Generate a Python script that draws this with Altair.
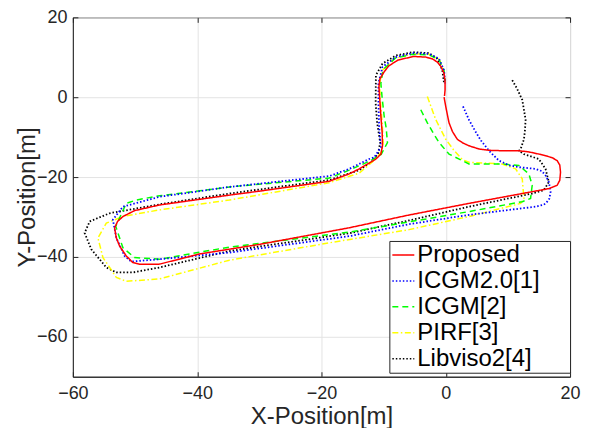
import altair as alt
import pandas as pd

series_names = ["Proposed", "ICGM2.0[1]", "ICGM[2]", "PIRF[3]", "Libviso2[4]"]
series_colors = ["#ff0000", "#0000ff", "#00ff00", "#ffff00", "#000000"]
series_dashes = [[1, 0], [1.5, 2], [6, 4], [6, 2.5, 1.5, 2.5], [1.5, 2]]

proposed_x = [-0.27, 0.10, 0.53, 1.08, 1.86, 2.78, 3.74, 5.35, 7.0, 9.09, 11.77, 13.38, 14.99, 16.06, 17.20, 17.93,
              18.35, 18.47, 18.35, 17.93, 16.59, 3.74, -5.90, -15.53, -29.99, -39.63, -46.06, -49.27, -50.35, -51.41,
              -52.48, -53.01, -53.29, -52.81, -51.95, -50.07, -46.06, -34.81, -29.99, -18.75, -15.53, -13.93, -11.24,
              -10.44, -10.18, -10.23, -10.44, -10.63, -10.75, -10.6, -9.91, -9.2, -7.7, -5.2, -3.21, -2.20, -1.35,
              -0.76, -0.27, -0.11, -0.11, -0.2]
proposed_y = [0.0, -3.14, -6.42, -8.6, -10.54, -11.48, -12.17, -12.96, -13.3, -13.41, -13.41, -13.70, -14.25, -14.64,
              -15.2, -15.88, -17.0, -18.77, -20.8, -22.05, -22.89, -26.59, -29.5, -32.7, -36.86, -39.26, -41.80, -41.85,
              -41.41, -39.75, -37.28, -35.23, -32.77, -31.11, -29.88, -28.40, -26.99, -24.52, -23.53, -21.06, -19.19,
              -17.95, -15.48, -14.25, -12.17, -8.89, -4.77, -0.25, 2.64, 4.6, 6.35, 7.8, 9.3, 10.2, 10.05, 9.63, 8.81,
              7.65, 5.93, 3.95, 1.80, 0.3]

icgm20_x = [2.78, 3.74, 4.71, 5.67, 6.96, 8.56, 10.17, 11.77, 14.46, 15.47, 16.06, 16.59, 16.87, 16.67, 16.32, 15.79,
            14.46, 3.74, -5.90, -15.53, -34.81, -46.06, -50.60, -51.68, -53.01, -53.56, -51.95, -46.06, -34.81, -18.75,
            -15.53, -12.32, -11.52, -10.44, -10.71, -10.83, -10.83, -10.18, -8.03, -5.37, -2.68, -1.08, -0.27, -0.11]
icgm20_y = [-2.30, -5.68, -8.40, -10.86, -13.41, -15.88, -17.04, -17.53, -17.95, -18.52, -19.58, -21.23, -23.70,
            -25.43, -26.17, -26.91, -27.41, -29.46, -31.8, -34.8, -38.9, -40.57, -41.16, -39.75, -35.23, -30.69,
            -27.41, -24.94, -22.47, -19.75, -17.95, -15.48, -15.06, -12.59, -7.65, -1.48, 3.46, 7.58, 10.05, 11.04,
            10.86, 9.63, 6.74, 3.46]

icgm_x = [-4.02, -2.96, -2.04, -1.08, 0.53, 2.67, 3.74, 9.09, 11.77, 13.38, 13.91, 13.65, 12.31, 3.74, -15.53, -34.81,
          -46.06, -50.07, -51.95, -53.01, -53.12, -51.41, -49.80, -46.06, -34.81, -18.75, -15.53, -12.32, -10.39, -9.38,
          -9.59, -9.91, -10.23, -10.44, -10.07, -8.14, -5.41, -2.68, -1.08, -0.27, -0.11]
icgm_y = [-3.14, -6.42, -8.89, -11.36, -14.25, -15.88, -16.72, -16.72, -17.11, -19.19, -22.05, -25.36, -26.17, -28.64,
          -33.8, -37.53, -40.57, -40.17, -37.70, -32.77, -32.35, -26.59, -25.75, -24.69, -22.47, -20.25, -18.27, -16.05,
          -14.32, -11.36, -7.65, -4.77, -0.25, 3.46, 6.91, 9.75, 10.74, 10.62, 9.38, 6.67, 3.95]

pirf_x = [-2.96, -1.61, 0.0, 1.33, 2.67, 3.74, 9.09, 11.24, 12.31, 12.58, 12.05, 3.74, -5.90, -18.75, -34.81, -46.06,
          -51.41, -53.01, -55.16, -55.97, -54.62, -51.95, -46.06, -34.81, -18.75, -13.93, -11.52, -10.39, -10.07, -10.23,
          -10.55, -10.63, -10.23, -8.31, -5.41, -2.68, -1.08, -0.27]
pirf_y = [0.17, -5.60, -10.54, -13.33, -15.63, -16.30, -16.72, -17.95, -20.42, -25.36, -26.59, -29.88, -33.16, -36.47,
          -40.81, -45.51, -46.10, -45.11, -40.17, -35.23, -31.53, -29.88, -28.22, -25.75, -21.41, -19.01, -15.80,
          -13.83, -11.36, -6.42, -0.25, 3.46, 6.67, 9.63, 10.86, 10.74, 9.51, 6.79]

libviso_x = [10.70, 11.45, 12.31, 12.85, 12.74, 12.58, 12.05, 11.77, 12.58, 14.99, 16.06, 16.59, 15.79, 13.91, 3.74,
             -5.90, -15.53, -34.81, -46.06, -50.35, -53.01, -54.62, -57.03, -58.11, -57.30, -54.09, -46.06, -34.81,
             -18.75, -13.93, -12.0, -10.88, -10.55, -11.04, -11.28, -11.24, -10.18, -8.03, -5.37, -2.68, -1.35, -0.55,
             -0.27]
libviso_y = [4.27, 2.22, -0.67, -5.60, -8.40, -10.54, -13.01, -13.41, -14.25, -15.48, -17.95, -21.23, -23.28, -24.12,
             -27.41, -30.86, -34.07, -38.52, -42.64, -43.88, -43.88, -42.64, -38.10, -34.0, -31.11, -29.06, -26.84,
             -24.12, -20.74, -18.27, -16.30, -14.07, -11.36, -6.42, -1.48, 5.51, 8.40, 10.44, 11.28, 11.04, 9.63, 6.74,
             3.46]

all_x = [proposed_x, icgm20_x, icgm_x, pirf_x, libviso_x]
all_y = [proposed_y, icgm20_y, icgm_y, pirf_y, libviso_y]

rows = []
for name, xs, ys in zip(series_names, all_x, all_y):
    for i, (xv, yv) in enumerate(zip(xs, ys)):
        rows.append({"series": name, "x": xv, "y": yv, "idx": i})
df = pd.DataFrame(rows)

ticks = [-60, -40, -20, 0, 20]
FONT = "Liberation Sans"
TXT = "#262626"
W, H = 498, 360

legend = alt.Legend(
    title=None, orient="none", legendX=317, legendY=224,
    fillColor="white", strokeColor=TXT, padding=2, cornerRadius=0,
    labelFont=FONT, labelFontSize=24, labelColor="black", labelOffset=2, labelLimit=400,
    symbolType="stroke", symbolSize=484, symbolStrokeWidth=1.5, rowPadding=2,
    labelExpr="datum.label == 'Libviso2[4]' ? datum.label + '\u2003\u00a0\u2009\u200b' : datum.label",
)

color = alt.Color("series:N", scale=alt.Scale(domain=series_names, range=series_colors), legend=legend)
dash = alt.StrokeDash("series:N", scale=alt.Scale(domain=series_names, range=series_dashes), legend=legend)

xscale = alt.Scale(domain=[-60, 20], nice=False, zero=False)
yscale = alt.Scale(domain=[-70, 20], nice=False, zero=False)

main_x = alt.Axis(orient="bottom", values=ticks, title="X-Position[m]", ticks=False, labelFlush=False,
                  labelPadding=8, titlePadding=2, grid=True)
main_y = alt.Axis(orient="left", values=ticks, title="Y-Position[m]", ticks=False, labelFlush=False,
                  labelPadding=6, titlePadding=-3, grid=True)


def tick_axis(orient, offset):
    return alt.Axis(orient=orient, offset=offset, values=ticks, labels=False, title=None, grid=False,
                    domain=False, ticks=True, tickSize=5, tickColor=TXT, tickWidth=1)


axes_for = {
    "Libviso2[4]": (main_x, main_y),
    "PIRF[3]": (tick_axis("top", -H), tick_axis("right", -W)),
    "ICGM[2]": (tick_axis("bottom", -H), tick_axis("left", -W)),
}

layers = []
for name in reversed(series_names):
    sw = 1.5 if name in ("Proposed", "ICGM[2]", "PIRF[3]") else 1.8
    ax, ay = axes_for.get(name, (None, None))
    layers.append(
        alt.Chart(df).transform_filter(alt.datum.series == name)
        .mark_line(strokeWidth=sw, clip=True)
        .encode(x=alt.X("x:Q", scale=xscale, axis=ax), y=alt.Y("y:Q", scale=yscale, axis=ay),
                color=color, strokeDash=dash, order=alt.Order("idx:Q"))
    )

chart = alt.layer(*layers).properties(
    width=W, height=H, background="white",
    autosize=alt.AutoSizeParams(type="none"),
    padding={"left": 65, "top": 9, "right": 20, "bottom": 52},
).configure_view(stroke=TXT, strokeWidth=1).configure_axis(
    domainColor=TXT, gridColor="#e3e3e3",
    labelFont=FONT, labelFontSize=18, labelColor=TXT,
    titleFont=FONT, titleFontSize=24, titleColor=TXT, titleFontWeight="normal",
)

chart.save("out.html", embed_options={"renderer": "svg", "actions": False})
